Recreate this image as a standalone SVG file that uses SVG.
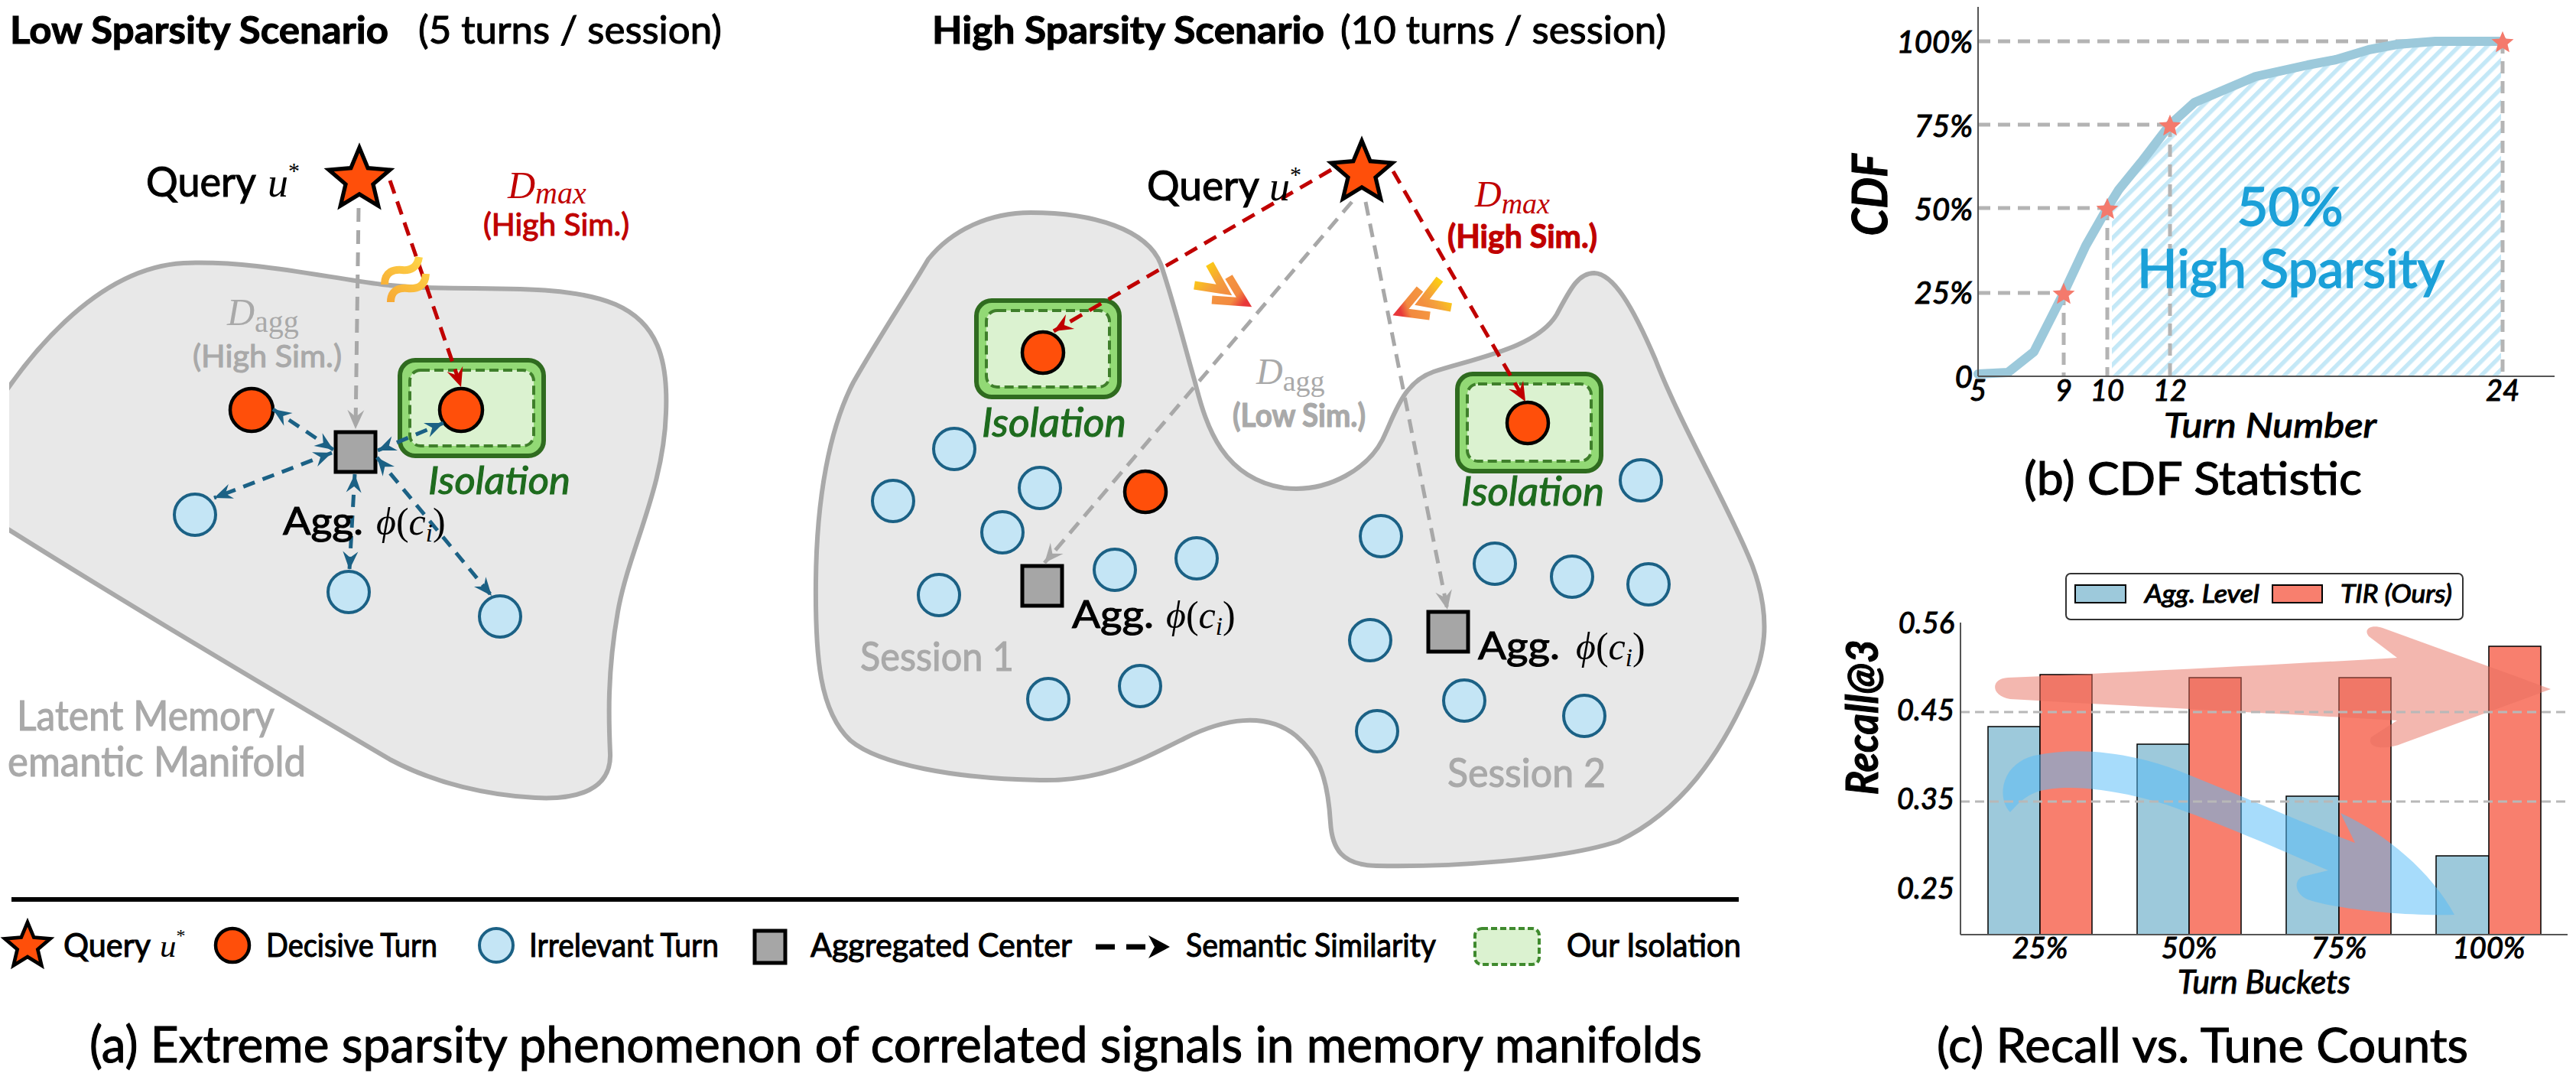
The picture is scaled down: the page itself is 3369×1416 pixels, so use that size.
<svg xmlns="http://www.w3.org/2000/svg" width="3369" height="1416" viewBox="0 0 3369 1416">
<defs>
<style>
.s{font-family:Lato,'Liberation Sans','DejaVu Sans',sans-serif;stroke:#000;stroke-width:1.1px}
.b{font-weight:bold}
.i{font-style:italic}
.m{font-family:'Liberation Serif','DejaVu Serif',serif;font-style:italic;stroke:none}
.r{font-family:'Liberation Serif','DejaVu Serif',serif;stroke:none}
.blob{fill:#E8E8E8;stroke:#A9A9A9;stroke-width:6}
.dec{fill:#FF4F0A;stroke:#000;stroke-width:4.5}
.irr{fill:#C4E5F5;stroke:#1B6185;stroke-width:4}
.agg{fill:#A6A6A6;stroke:#000;stroke-width:5}
.isoO{fill:#92D975;stroke:#2F6B1F;stroke-width:6}
.isoI{fill:#DBF2D0;stroke:#3F7F2B;stroke-width:4;stroke-dasharray:12 6}
.bl{fill:none;stroke:#1B6185;stroke-width:5;stroke-dasharray:16 11}
.rd{fill:none;stroke:#C00000;stroke-width:5;stroke-dasharray:18 11}
.gy{fill:none;stroke:#A8A8A8;stroke-width:5;stroke-dasharray:18 11}
.star{fill:#FF4F0A;stroke:#000;stroke-width:5;stroke-linejoin:miter}
.cstar{fill:#F47A6C;stroke:none}
.grid{fill:none;stroke:#B4B4B4;stroke-width:5;stroke-dasharray:16 10}
.gridc{fill:none;stroke:#B8B8B8;stroke-width:3;stroke-dasharray:12 7}
.axis{stroke:#555;stroke-width:2;fill:none}
.gt{fill:#A9A9A9}
.s.gt{stroke:#A9A9A9}
.iso{fill:#1E6B1E}
.s.iso{stroke:#1E6B1E}
.red{fill:#C00000}
.s.red{stroke:#C00000}
.blu{fill:#1BA0D8}
.s.blu{stroke:#1BA0D8;stroke-width:1.6px}
.barB{fill:#9DC9DB;stroke:#000;stroke-width:1.5}
.barR{fill:#F87F6E;stroke:#000;stroke-width:1.5}
</style>
<path id="starP" d="M0,-40 L10.58,-14.56 L38.04,-12.36 L17.12,5.56 L23.51,32.36 L0,18 L-23.51,32.36 L-17.12,5.56 L-38.04,-12.36 L-10.58,-14.56 Z"/>
<marker id="mb" viewBox="-26 -12 28 24" refX="0" refY="0" markerWidth="28" markerHeight="24" markerUnits="userSpaceOnUse" orient="auto-start-reverse"><path d="M0,0 L-24,-10 L-16,0 L-24,10 Z" fill="#1B6185"/></marker>
<marker id="mr" viewBox="-26 -12 28 24" refX="0" refY="0" markerWidth="28" markerHeight="24" markerUnits="userSpaceOnUse" orient="auto"><path d="M0,0 L-25,-11 L-16,0 L-25,11 Z" fill="#C00000"/></marker>
<marker id="mg" viewBox="-26 -12 28 24" refX="0" refY="0" markerWidth="28" markerHeight="24" markerUnits="userSpaceOnUse" orient="auto"><path d="M0,0 L-25,-11 L-16,0 L-25,11 Z" fill="#A8A8A8"/></marker>
<linearGradient id="gSq" gradientUnits="userSpaceOnUse" x1="550" y1="330" x2="505" y2="395"><stop offset="0" stop-color="#FFD84A"/><stop offset="1" stop-color="#F6A733"/></linearGradient>
<linearGradient id="gA1" gradientUnits="userSpaceOnUse" x1="1565" y1="345" x2="1602" y2="380"><stop offset="0" stop-color="#FFE000"/><stop offset="0.7" stop-color="#F4A03C"/><stop offset="1" stop-color="#F39040"/></linearGradient>
<linearGradient id="gA2" gradientUnits="userSpaceOnUse" x1="1590" y1="365" x2="1628" y2="396"><stop offset="0" stop-color="#F59840"/><stop offset="0.7" stop-color="#F28A40"/><stop offset="1" stop-color="#E8383A"/></linearGradient>
<linearGradient id="gB1" gradientUnits="userSpaceOnUse" x1="1895" y1="370" x2="1860" y2="395"><stop offset="0" stop-color="#FFE000"/><stop offset="0.7" stop-color="#F4A03C"/><stop offset="1" stop-color="#F39040"/></linearGradient>
<linearGradient id="gB2" gradientUnits="userSpaceOnUse" x1="1868" y1="395" x2="1832" y2="408"><stop offset="0" stop-color="#F59840"/><stop offset="0.7" stop-color="#F28A40"/><stop offset="1" stop-color="#E8383A"/></linearGradient>
<pattern id="hatch" patternUnits="userSpaceOnUse" width="13" height="13" patternTransform="rotate(45)"><rect width="13" height="13" fill="#fff"/><rect x="0" y="0" width="5.5" height="13" fill="#C4E8F7"/></pattern>
<clipPath id="clipL"><rect x="12" y="0" width="1000" height="1100"/></clipPath>
</defs>
<rect width="3369" height="1416" fill="#fff"/>

<!-- ===== Panel (a) left: Low sparsity ===== -->
<g id="title-low">
<text x="13" y="57" class="s b" font-size="50" textLength="495" lengthAdjust="spacingAndGlyphs">Low Sparsity Scenario</text>
<text x="547" y="57" class="s" font-size="50" textLength="397" lengthAdjust="spacingAndGlyphs">(5 turns / session)</text>
</g>
<g id="manifold-low">
<path class="blob" clip-path="url(#clipL)" d="M -40,590 C 30,460 130,350 240,344 C 330,340 420,362 500,372 C 600,384 730,366 805,398 C 860,422 874,470 871,540 C 868,640 822,720 808,800 C 794,880 796,940 798,985 C 800,1032 756,1046 700,1043 C 640,1040 570,1025 510,993 C 420,940 180,800 -40,660 Z"/>
<text x="22" y="955" class="s gt" font-size="54" textLength="337" lengthAdjust="spacingAndGlyphs">Latent Memory</text>
<text x="10" y="1015" class="s gt" font-size="54" textLength="390" lengthAdjust="spacingAndGlyphs">emantic Manifold</text>
</g>
<g id="iso-low">
<rect class="isoO" x="523" y="471" width="188" height="125" rx="20"/>
<rect class="isoI" x="536" y="484" width="162" height="99" rx="14"/>
</g>
<g id="query-low"><use href="#starP" class="star" transform="translate(470,235) scale(1.05)"/></g>
<g id="dec-low-1"><circle class="dec" cx="329" cy="536" r="28"/></g>
<g id="dec-low-2"><circle class="dec" cx="603" cy="536" r="28"/></g>
<g id="irr-low-1"><circle class="irr" cx="255" cy="673" r="27"/></g>
<g id="irr-low-2"><circle class="irr" cx="456" cy="774" r="27"/></g>
<g id="irr-low-3"><circle class="irr" cx="654" cy="806" r="27"/></g>
<g id="agg-low"><rect class="agg" x="439" y="565" width="52" height="52"/></g>

<!-- ===== Panel (a) right: High sparsity ===== -->
<g id="title-high">
<text x="1219" y="57" class="s b" font-size="50" textLength="513" lengthAdjust="spacingAndGlyphs">High Sparsity Scenario</text>
<text x="1753" y="57" class="s" font-size="50" textLength="426" lengthAdjust="spacingAndGlyphs">(10 turns / session)</text>
</g>
<g id="manifold-high">
<path class="blob" d="M 1348,278 C 1430,278 1500,300 1518,345 C 1535,395 1550,455 1563,500 C 1578,560 1600,625 1679,638 C 1740,645 1790,610 1808,575 C 1825,540 1835,500 1875,486 C 1930,468 2010,455 2036,411 C 2055,375 2065,357 2085,357 C 2110,358 2135,400 2165,470 C 2200,560 2265,670 2292,740 C 2318,810 2308,860 2286,905 C 2250,985 2200,1060 2116,1100 C 2040,1125 1890,1134 1800,1132 C 1755,1131 1742,1110 1740,1075 C 1736,1010 1722,985 1695,962 C 1655,930 1600,940 1550,965 C 1490,995 1440,1022 1360,1020 C 1250,1018 1150,1000 1112,968 C 1072,930 1066,860 1067,760 C 1068,650 1085,560 1116,500 C 1150,440 1190,380 1214,339 C 1245,300 1295,278 1348,278 Z"/>
<text x="1125" y="877" class="s gt" font-size="52" textLength="201" lengthAdjust="spacingAndGlyphs">Session 1</text>
<text x="1893" y="1029" class="s gt" font-size="52" textLength="207" lengthAdjust="spacingAndGlyphs">Session 2</text>
</g>
<g id="iso-high-1">
<rect class="isoO" x="1277" y="393" width="187" height="126" rx="20"/>
<rect class="isoI" x="1290" y="406" width="161" height="100" rx="14"/>
</g>
<g id="iso-high-2">
<rect class="isoO" x="1906" y="489" width="188" height="127" rx="20"/>
<rect class="isoI" x="1919" y="502" width="162" height="101" rx="14"/>
</g>
<g id="query-high"><use href="#starP" class="star" transform="translate(1781,226) scale(1.05)"/></g>
<g id="dec-high-1"><circle class="dec" cx="1364" cy="461" r="27"/></g>
<g id="dec-high-2"><circle class="dec" cx="1998" cy="553" r="27"/></g>
<g id="dec-high-3"><circle class="dec" cx="1498" cy="643" r="27"/></g>
<g id="irr-high">
<circle class="irr" cx="1248" cy="587" r="27"/>
<circle class="irr" cx="1168" cy="655" r="27"/>
<circle class="irr" cx="1360" cy="638" r="27"/>
<circle class="irr" cx="1311" cy="696" r="27"/>
<circle class="irr" cx="1228" cy="778" r="27"/>
<circle class="irr" cx="1458" cy="745" r="27"/>
<circle class="irr" cx="1565" cy="730" r="27"/>
<circle class="irr" cx="1371" cy="914" r="27"/>
<circle class="irr" cx="1491" cy="897" r="27"/>
<circle class="irr" cx="1806" cy="701" r="27"/>
<circle class="irr" cx="1955" cy="737" r="27"/>
<circle class="irr" cx="2056" cy="754" r="27"/>
<circle class="irr" cx="2156" cy="764" r="27"/>
<circle class="irr" cx="2146" cy="628" r="27"/>
<circle class="irr" cx="1792" cy="837" r="27"/>
<circle class="irr" cx="1915" cy="916" r="27"/>
<circle class="irr" cx="2072" cy="936" r="27"/>
<circle class="irr" cx="1801" cy="956" r="27"/>
</g>
<g id="agg-high-1"><rect class="agg" x="1337" y="740" width="52" height="52"/></g>
<g id="agg-high-2"><rect class="agg" x="1868" y="800" width="52" height="52"/></g>

<!-- ===== connectors ===== -->
<g id="connectors">
<line class="gy" x1="469" y1="272" x2="465" y2="561" marker-end="url(#mg)"/>
<line class="rd" x1="510" y1="236" x2="603" y2="506" marker-end="url(#mr)"/>
<line class="bl" x1="436" y1="588" x2="357" y2="535" marker-start="url(#mb)" marker-end="url(#mb)"/>
<line class="bl" x1="494" y1="589" x2="580" y2="553" marker-start="url(#mb)" marker-end="url(#mb)"/>
<line class="bl" x1="434" y1="592" x2="280" y2="651" marker-start="url(#mb)" marker-end="url(#mb)"/>
<line class="bl" x1="464" y1="620" x2="457" y2="745" marker-start="url(#mb)" marker-end="url(#mb)"/>
<line class="bl" x1="493" y1="598" x2="643" y2="779" marker-start="url(#mb)" marker-end="url(#mb)"/>
<line class="gy" x1="1768" y1="264" x2="1366" y2="736" marker-end="url(#mg)"/>
<line class="gy" x1="1786" y1="264" x2="1893" y2="797" marker-end="url(#mg)"/>
<line class="rd" x1="1741" y1="222" x2="1378" y2="433" marker-end="url(#mr)"/>
<line class="rd" x1="1822" y1="224" x2="1995" y2="525" marker-end="url(#mr)"/>
</g>

<!-- decorations -->
<g id="approx" fill="none" stroke="url(#gSq)" stroke-width="10" stroke-linecap="butt">
<path d="M 503,372 C 503,355 515,352 526,353 C 537,354 546,350 548,336"/>
<path d="M 511,395 C 511,379 522,376 533,377 C 546,378 556,375 557,358"/>
</g>
<g id="chevrons" fill="none" stroke-width="11" stroke-linejoin="miter" stroke-linecap="butt">
<polyline points="1582,345 1601,379 1562,373" stroke="url(#gA1)"/>
<polyline points="1607,362 1627,395 1585,392" stroke="url(#gA2)"/>
<polyline points="1883,365 1860,395 1898,402" stroke="url(#gB1)"/>
<polyline points="1857,378 1832,408 1870,413" stroke="url(#gB2)"/>
</g>

<!-- labels -->
<g id="labels-low">
<text y="257" font-size="54"><tspan x="191" class="s" textLength="144" lengthAdjust="spacingAndGlyphs">Query</tspan><tspan x="350" class="m">u</tspan><tspan class="r" font-size="30" dy="-24">*</tspan></text>
<text y="259" class="m red" font-size="50"><tspan x="664">D</tspan><tspan font-size="40" dy="7">max</tspan></text>
<text x="632" y="308" class="s red" font-size="40" textLength="191" lengthAdjust="spacingAndGlyphs">(High Sim.)</text>
<text y="425" class="gt" font-size="50"><tspan x="297" class="m">D</tspan><tspan class="r" font-size="40" dy="9">agg</tspan></text>
<text x="252" y="480" class="s gt" font-size="41" textLength="195" lengthAdjust="spacingAndGlyphs">(High Sim.)</text>
<text x="560" y="646" class="s i iso" font-size="50" textLength="186" lengthAdjust="spacingAndGlyphs">Isolation</text>
<text y="699" font-size="50"><tspan x="370" class="s" textLength="105" lengthAdjust="spacingAndGlyphs">Agg.</tspan><tspan x="492" class="m">ϕ</tspan><tspan class="r">(</tspan><tspan class="m">c</tspan><tspan class="m" font-size="33" dy="9">i</tspan><tspan class="r" dy="-9">)</tspan></text>
</g>
<g id="labels-high">
<text y="262" font-size="54"><tspan x="1500" class="s" textLength="147" lengthAdjust="spacingAndGlyphs">Query</tspan><tspan x="1660" class="m">u</tspan><tspan class="r" font-size="30" dy="-24">*</tspan></text>
<text y="270" class="m red" font-size="48"><tspan x="1929">D</tspan><tspan font-size="38" dy="9">max</tspan></text>
<text x="1893" y="324" class="s b red" font-size="42" textLength="196" lengthAdjust="spacingAndGlyphs">(High Sim.)</text>
<text y="502" class="gt" font-size="48"><tspan x="1643" class="m">D</tspan><tspan class="r" font-size="38" dy="9">agg</tspan></text>
<text x="1612" y="558" class="s b gt" font-size="42" textLength="174" lengthAdjust="spacingAndGlyphs">(Low Sim.)</text>
<text x="1284" y="571" class="s i iso" font-size="52" textLength="189" lengthAdjust="spacingAndGlyphs">Isolation</text>
<text x="1911" y="661" class="s i iso" font-size="52" textLength="187" lengthAdjust="spacingAndGlyphs">Isolation</text>
<text y="821" font-size="50"><tspan x="1402" class="s" textLength="107" lengthAdjust="spacingAndGlyphs">Agg.</tspan><tspan x="1525" class="m">ϕ</tspan><tspan class="r">(</tspan><tspan class="m">c</tspan><tspan class="m" font-size="33" dy="9">i</tspan><tspan class="r" dy="-9">)</tspan></text>
<text y="862" font-size="50"><tspan x="1933" class="s" textLength="107" lengthAdjust="spacingAndGlyphs">Agg.</tspan><tspan x="2061" class="m">ϕ</tspan><tspan class="r">(</tspan><tspan class="m">c</tspan><tspan class="m" font-size="33" dy="9">i</tspan><tspan class="r" dy="-9">)</tspan></text>
</g>

<!-- legend (a) -->
<g id="legend-a">
<line x1="15" y1="1176" x2="2274" y2="1176" stroke="#000" stroke-width="6"/>
<use href="#starP" class="star" transform="translate(36,1237) scale(0.78)" style="stroke-width:6"/>
<text y="1251" font-size="43"><tspan x="83" class="s" textLength="114" lengthAdjust="spacingAndGlyphs">Query</tspan><tspan x="209" class="m">u</tspan><tspan class="r" font-size="24" dy="-20">*</tspan></text>
<circle class="dec" cx="304" cy="1236" r="22"/>
<text x="348" y="1251" class="s" font-size="43" textLength="224" lengthAdjust="spacingAndGlyphs">Decisive Turn</text>
<circle class="irr" cx="649" cy="1236" r="22"/>
<text x="692" y="1251" class="s" font-size="43" textLength="248" lengthAdjust="spacingAndGlyphs">Irrelevant Turn</text>
<rect class="agg" x="987" y="1217" width="40" height="42"/>
<text x="1060" y="1251" class="s" font-size="43" textLength="342" lengthAdjust="spacingAndGlyphs">Aggregated Center</text>
<line x1="1433" y1="1238" x2="1500" y2="1238" stroke="#000" stroke-width="7" stroke-dasharray="25 15"/>
<path d="M1502,1223 L1530,1238 L1502,1253 L1510,1238 Z" fill="#000"/>
<text x="1551" y="1251" class="s" font-size="43" textLength="327" lengthAdjust="spacingAndGlyphs">Semantic Similarity</text>
<rect x="1929" y="1214" width="84" height="47" rx="9" fill="#DBF2D0" stroke="#3F8A2E" stroke-width="4" stroke-dasharray="8 4"/>
<text x="2049" y="1251" class="s" font-size="43" textLength="228" lengthAdjust="spacingAndGlyphs">Our Isolation</text>
</g>
<g id="caption-a"><text x="117" y="1389" class="s" font-size="66" textLength="2109" lengthAdjust="spacingAndGlyphs">(a) Extreme sparsity phenomenon of correlated signals in memory manifolds</text></g>

<!-- ===== Panel (b) CDF ===== -->
<g id="cdf">
<path d="M2762,492 L2762,262 L2771,250 L2802,212 L2838,165 L2870,137 L2950,103 L3018,88 L3055,81 L3098,68 L3135,61 L3185,57 L3271,57 L3271,492 Z" fill="url(#hatch)"/>
<line class="grid" x1="2587" y1="54" x2="3273" y2="54"/>
<line class="grid" x1="2587" y1="163" x2="2838" y2="163"/>
<line class="grid" x1="2587" y1="272" x2="2756" y2="272"/>
<line class="grid" x1="2587" y1="383" x2="2699" y2="383"/>
<line class="grid" x1="2699" y1="383" x2="2699" y2="492"/>
<line class="grid" x1="2756" y1="272" x2="2756" y2="492"/>
<line class="grid" x1="2838" y1="163" x2="2838" y2="492"/>
<line class="grid" x1="3273" y1="54" x2="3273" y2="492"/>
<path d="M2587,489 L2626,487 L2660,460 L2699,383 L2728,321 L2756,272 L2771,248 L2802,210 L2838,163 L2870,134 L2950,100 L3018,85 L3055,78 L3098,65 L3135,58 L3185,54 L3273,54" fill="none" stroke="#9CC9DB" stroke-width="12" stroke-linejoin="round" stroke-linecap="round"/>
<line class="axis" x1="2587" y1="9" x2="2587" y2="492"/>
<line class="axis" x1="2587" y1="492" x2="3341" y2="492"/>
<use href="#starP" class="cstar" transform="translate(2699,385) scale(0.38)"/>
<use href="#starP" class="cstar" transform="translate(2756,274) scale(0.38)"/>
<use href="#starP" class="cstar" transform="translate(2838,165) scale(0.38)"/>
<use href="#starP" class="cstar" transform="translate(3273,56) scale(0.38)"/>
<g class="s i" font-size="40" text-anchor="end">
<text x="2580" y="69">100%</text>
<text x="2580" y="179">75%</text>
<text x="2580" y="288">50%</text>
<text x="2580" y="397">25%</text>
<text x="2580" y="507">0</text>
</g>
<g class="s i" font-size="38" text-anchor="middle">
<text x="2587" y="524">5</text>
<text x="2699" y="524">9</text>
<text x="2756" y="524">10</text>
<text x="2838" y="524">12</text>
<text x="3273" y="524">24</text>
</g>
<text x="2830" y="572" class="s i" font-size="44" textLength="278" lengthAdjust="spacingAndGlyphs">Turn Number</text>
<text transform="translate(2468,255) rotate(-90)" text-anchor="middle" class="s b i" font-size="64" textLength="107" lengthAdjust="spacingAndGlyphs">CDF</text>
<text x="2995" y="295" text-anchor="middle" class="s blu" font-size="70" textLength="139" lengthAdjust="spacingAndGlyphs">50%</text>
<text x="2996" y="376" text-anchor="middle" class="s blu" font-size="70" textLength="402" lengthAdjust="spacingAndGlyphs">High Sparsity</text>
</g>
<g id="caption-b"><text x="2647" y="647" class="s" font-size="60" textLength="442" lengthAdjust="spacingAndGlyphs">(b) CDF Statistic</text></g>

<!-- ===== Panel (c) bars ===== -->
<g id="bars">
<rect class="barB" x="2600" y="950" width="68" height="272"/>
<rect class="barR" x="2668" y="882" width="68" height="340"/>
<rect class="barB" x="2795" y="973" width="68" height="249"/>
<rect class="barR" x="2863" y="886" width="68" height="336"/>
<rect class="barB" x="2990" y="1041" width="69" height="181"/>
<rect class="barR" x="3059" y="886" width="68" height="336"/>
<rect class="barB" x="3186" y="1119" width="69" height="103"/>
<rect class="barR" x="3255" y="845" width="68" height="377"/>
<path d="M2629,914 C2603,910 2603,887 2626,886 C2800,878 3000,868 3135,860 L3098,832 C3090,822 3102,816 3116,821 L3336,901 L3142,972 C3124,980 3094,980 3101,964 L3135,942 C3000,934 2800,924 2629,914 Z" fill="#E87060" opacity="0.5"/>
<path d="M2629,1062 C2612,1045 2615,1000 2660,988 C2720,975 2790,985 2850,1008 C2930,1040 3010,1075 3080,1102 L3061,1063 C3120,1090 3180,1140 3210,1196 C3150,1198 3060,1190 3018,1176 C3000,1168 3000,1150 3012,1146 L3045,1138 C2980,1110 2900,1075 2833,1052 C2760,1030 2700,1025 2665,1035 C2645,1042 2636,1055 2629,1062 Z" fill="#57BCF7" opacity="0.52"/>
<line class="gridc" x1="2564" y1="931" x2="3358" y2="931"/>
<line class="gridc" x1="2564" y1="1048" x2="3358" y2="1048"/>
<line class="axis" x1="2564" y1="814" x2="2564" y2="1222"/>
<line class="axis" x1="2564" y1="1222" x2="3358" y2="1222"/>
<g class="s i" font-size="38" text-anchor="end">
<text x="2556" y="828">0.56</text>
<text x="2556" y="942">0.45</text>
<text x="2556" y="1058">0.35</text>
<text x="2556" y="1175">0.25</text>
</g>
<g class="s i" font-size="38" text-anchor="middle">
<text x="2668" y="1253">25%</text>
<text x="2863" y="1253">50%</text>
<text x="3059" y="1253">75%</text>
<text x="3255" y="1253">100%</text>
</g>
<text x="2848" y="1299" class="s i" font-size="42" textLength="226" lengthAdjust="spacingAndGlyphs">Turn Buckets</text>
<text transform="translate(2456,938) rotate(-90)" text-anchor="middle" class="s b i" font-size="58" textLength="203" lengthAdjust="spacingAndGlyphs">Recall@3</text>
<rect x="2702" y="750" width="519" height="60" rx="6" fill="#fff" stroke="#333" stroke-width="2"/>
<rect x="2714" y="765" width="66" height="23" fill="#9DC9DB" stroke="#000" stroke-width="2"/>
<text x="2805" y="788" class="s i" font-size="32" textLength="150" lengthAdjust="spacingAndGlyphs">Agg. Level</text>
<rect x="2972" y="765" width="65" height="23" fill="#F87F6E" stroke="#000" stroke-width="2"/>
<text x="3061" y="788" class="s i" font-size="32" textLength="146" lengthAdjust="spacingAndGlyphs">TIR (Ours)</text>
</g>
<g id="caption-c"><text x="2533" y="1389" class="s" font-size="62" textLength="695" lengthAdjust="spacingAndGlyphs">(c) Recall vs. Tune Counts</text></g>
</svg>
